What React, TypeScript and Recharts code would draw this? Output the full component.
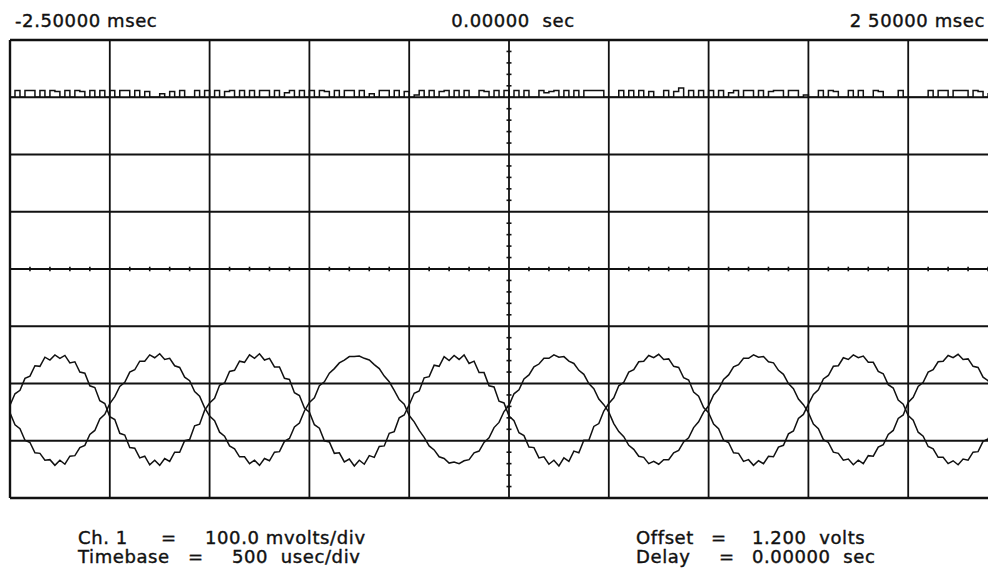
import {
  ComposedChart,
  CartesianGrid,
  Line,
  ReferenceLine,
  XAxis,
  YAxis,
} from "recharts";

// screen is 10 divisions wide, 8 high; samples every 0.05 div
const SAMPLE_STEP = 0.05;

// channel trace, phase A (in divisions)
const traceA = [
  1.62, 1.82, 1.88, 2.09, 2.13, 2.31, 2.30, 2.46, 2.41, 2.50, 2.44, 2.49, 2.36, 2.38, 2.20, 2.18, 1.96, 1.93, 1.70, 1.65,
  1.42, 1.37, 1.13, 1.10, 0.88, 0.87, 0.70, 0.73, 0.58, 0.66, 0.57, 0.69, 0.64, 0.80, 0.80, 1.00, 1.02, 1.26, 1.29, 1.53,
  1.66, 1.74, 1.97, 2.01, 2.21, 2.23, 2.39, 2.37, 2.50, 2.44, 2.52, 2.41, 2.44, 2.29, 2.29, 2.09, 2.07, 1.84, 1.79, 1.57,
  1.50, 1.28, 1.22, 1.00, 0.98, 0.78, 0.79, 0.63, 0.68, 0.56, 0.66, 0.59, 0.74, 0.71, 0.90, 0.91, 1.13, 1.16, 1.40, 1.45,
  1.63, 1.83, 1.87, 2.10, 2.12, 2.32, 2.30, 2.47, 2.40, 2.49, 2.42, 2.50, 2.35, 2.39, 2.19, 2.19, 1.96, 1.94, 1.69, 1.66,
  1.43, 1.35, 1.14, 1.09, 0.89, 0.88, 0.70, 0.72, 0.59, 0.66, 0.56, 0.70, 0.64, 0.82, 0.79, 1.01, 1.01, 1.25, 1.30, 1.52,
  1.65, 1.75, 1.96, 2.02, 2.20, 2.24, 2.38, 2.39, 2.49, 2.45, 2.51, 2.42, 2.43, 2.30, 2.28, 2.10, 2.06, 1.85, 1.78, 1.58,
  1.49, 1.29, 1.21, 1.01, 0.97, 0.79, 0.78, 0.64, 0.67, 0.57, 0.65, 0.60, 0.73, 0.72, 0.89, 0.92, 1.12, 1.17, 1.39, 1.46,
  1.64, 1.81, 1.89, 2.08, 2.14, 2.30, 2.31, 2.45, 2.42, 2.50, 2.45, 2.48, 2.37, 2.37, 2.21, 2.17, 1.98, 1.92, 1.71, 1.64,
  1.44, 1.36, 1.15, 1.08, 0.90, 0.86, 0.71, 0.71, 0.60, 0.65, 0.58, 0.68, 0.66, 0.80, 0.81, 0.99, 1.03, 1.24, 1.31, 1.52,
  1.64,
];

// same channel, phase B
const traceB = [
  1.49, 1.28, 1.21, 1.01, 0.97, 0.79, 0.78, 0.66, 0.67, 0.57, 0.66, 0.59, 0.73, 0.74, 0.88, 0.92, 1.11, 1.18, 1.38, 1.46,
  1.65, 1.77, 1.95, 2.02, 2.20, 2.24, 2.39, 2.39, 2.50, 2.45, 2.52, 2.42, 2.44, 2.31, 2.28, 2.11, 2.05, 1.86, 1.78, 1.58,
  1.43, 1.35, 1.15, 1.08, 0.91, 0.86, 0.72, 0.72, 0.60, 0.66, 0.57, 0.69, 0.65, 0.80, 0.81, 0.99, 1.04, 1.24, 1.31, 1.52,
  1.67, 1.75, 1.96, 2.03, 2.18, 2.26, 2.36, 2.41, 2.47, 2.47, 2.48, 2.44, 2.41, 2.33, 2.26, 2.13, 2.03, 1.88, 1.72, 1.64,
  1.44, 1.33, 1.18, 1.06, 0.91, 0.84, 0.72, 0.69, 0.61, 0.63, 0.60, 0.65, 0.67, 0.79, 0.82, 0.97, 1.05, 1.23, 1.32, 1.51,
  1.62, 1.82, 1.89, 2.08, 2.15, 2.29, 2.34, 2.44, 2.44, 2.50, 2.46, 2.47, 2.39, 2.35, 2.23, 2.16, 2.00, 1.91, 1.73, 1.63,
  1.50, 1.30, 1.16, 1.07, 0.92, 0.85, 0.73, 0.71, 0.60, 0.64, 0.59, 0.67, 0.67, 0.79, 0.83, 0.98, 1.05, 1.23, 1.33, 1.50,
  1.61, 1.80, 1.90, 2.07, 2.15, 2.29, 2.33, 2.44, 2.44, 2.50, 2.46, 2.47, 2.38, 2.36, 2.23, 2.16, 2.00, 1.91, 1.73, 1.63,
  1.49, 1.29, 1.21, 1.02, 0.97, 0.80, 0.78, 0.66, 0.68, 0.58, 0.66, 0.60, 0.74, 0.73, 0.89, 0.93, 1.11, 1.18, 1.39, 1.45,
  1.67, 1.76, 1.95, 2.02, 2.20, 2.24, 2.38, 2.39, 2.49, 2.45, 2.51, 2.42, 2.43, 2.30, 2.28, 2.11, 2.05, 1.86, 1.78, 1.58,
  1.44,
];

// noisy trace sitting on the 7th division line
const topTrace = [
  7, 7.12, 7, 7.12, 7.12, 7, 7.12, 7, 7.12, 7.1, 7, 7.12, 7, 7.12, 7.1, 7, 7.12, 7, 7.12, 7,
  7.12, 7, 7.12, 7.12, 7, 7.12, 7, 7.1, 7, 7, 7.06, 7, 7.1, 7, 7.12, 7, 7, 7.12, 7, 7.12,
  7, 7.12, 7, 7.1, 7.12, 7, 7.12, 7, 7.12, 7, 7.12, 7.12, 7, 7.12, 7, 7.08, 7.12, 7, 7.12, 7,
  7.12, 7, 7.12, 7.1, 7, 7.12, 7, 7.12, 7.12, 7, 7.12, 7, 7.06, 7, 7.12, 7.12, 7, 7.12, 7, 7.1,
  7, 7.04, 7.12, 7, 7.12, 7, 7.1, 7.12, 7, 7.12, 7, 7.12, 7, 7, 7.12, 7.1, 7, 7.12, 7, 7.12,
  7, 7.12, 7, 7.12, 7, 7, 7.12, 7.08, 7.1, 7.12, 7, 7.12, 7, 7.12, 7, 7.12, 7.12, 7.12, 7.12, 7,
  7, 7, 7.12, 7, 7.12, 7, 7.12, 7, 7.1, 7, 7, 7.12, 7, 7.1, 7.16, 7, 7.12, 7, 7.12, 7,
  7.12, 7, 7.12, 7, 7.08, 7.12, 7, 7.12, 7.12, 7, 7.12, 7, 7.1, 7.12, 7.12, 7, 7.12, 7.12, 7, 7.04,
  7, 7, 7.12, 7, 7.12, 7.1, 7, 7, 7.12, 7, 7.12, 7, 7, 7.12, 7.1, 7, 7, 7, 7.12, 7,
  7, 7, 7, 7, 7.12, 7, 7.12, 7.12, 7, 7.12, 7.12, 7.12, 7, 7.12, 7.1, 7, 7.06, 7, 7.04, 7,
  7,
];

const xDivisions = [0, 1, 2, 3, 4, 5, 6, 7, 8, 9, 10];
const yDivisions = [0, 1, 2, 3, 4, 5, 6, 7, 8];
const minorSteps = [0.2, 0.4, 0.6, 0.8];

const headerLabels = ["-2.50000 msec", "0.00000  sec", "2 50000 msec"];
const footerLeft = [
  ["Ch. 1", "=", "100.0 mvolts/div"],
  ["Timebase", "=", "500  usec/div"],
];
const footerRight = [
  ["Offset", "=", "1.200  volts"],
  ["Delay", "=", "0.00000  sec"],
];

const rows = traceA.map((a, i) => ({
  x: Math.round(i * SAMPLE_STEP * 100) / 100,
  a,
  b: traceB[i],
  top: topTrace[i],
}));

// small tick marks along the centre cross
const centreYTicks = yDivisions.slice(0, -1).flatMap((d) => minorSteps.map((s) => d + s));
const centreXTicks = xDivisions.slice(0, -1).flatMap((d) => minorSteps.map((s) => d + s));

const textStyle: React.CSSProperties = {
  position: "absolute",
  fontFamily: "'DejaVu Sans', sans-serif",
  fontSize: 18,
  lineHeight: "18px",
  letterSpacing: 0.6,
  color: "#111",
  WebkitTextStroke: "0.4px #111",
  whiteSpace: "pre",
};

function Txt({ left, top, children }: { left: number; top: number; children: string }) {
  return <div style={{ ...textStyle, left, top }}>{children}</div>;
}

export default function App() {
  const ink = "#111";
  const lineGap = 19;
  return (
    <div style={{ position: "relative", width: 988, height: 560, overflow: "hidden", background: "#fff" }}>
      <Txt left={7} top={4}>{headerLabels[0]}</Txt>
      <div style={{ ...textStyle, left: 405, top: 4, width: 200, textAlign: "center" }}>{headerLabels[1]}</div>
      <div style={{ ...textStyle, right: 11, top: 4 }}>{headerLabels[2]}</div>

      <div style={{ position: "absolute", left: 0, top: 30 }}>
        <ComposedChart width={1002} height={462} data={rows} margin={{ top: 2, right: 2, left: 2, bottom: 2 }}>
          <XAxis type="number" dataKey="x" domain={[0, 10]} ticks={xDivisions} hide />
          <YAxis type="number" domain={[0, 8]} ticks={yDivisions} hide />
          <CartesianGrid stroke={ink} strokeWidth={1.8} horizontalValues={yDivisions} verticalValues={xDivisions} />
          <ReferenceLine y={8} stroke={ink} strokeWidth={2.4} />
          <ReferenceLine y={0} stroke={ink} strokeWidth={2.4} />
          <ReferenceLine x={0} stroke={ink} strokeWidth={2.4} />
          {centreYTicks.map((v) => (
            <ReferenceLine
              key={"cy" + v}
              segment={[{ x: 4.975, y: v }, { x: 5.025, y: v }]}
              stroke={ink}
              strokeWidth={1.6}
            />
          ))}
          {centreXTicks.map((v) => (
            <ReferenceLine
              key={"cx" + v}
              segment={[{ x: v, y: 3.96 }, { x: v, y: 4.04 }]}
              stroke={ink}
              strokeWidth={1.6}
            />
          ))}
          <Line type="stepAfter" dataKey="top" stroke={ink} strokeWidth={1.5} dot={false} isAnimationActive={false} />
          <Line type="linear" dataKey="a" stroke={ink} strokeWidth={1.5} dot={false} isAnimationActive={false} />
          <Line type="linear" dataKey="b" stroke={ink} strokeWidth={1.5} dot={false} isAnimationActive={false} />
        </ComposedChart>
      </div>

      {footerLeft.map((r, i) => (
        <div key={"fl" + i}>
          <Txt left={70} top={521 + i * lineGap}>{r[0]}</Txt>
          <Txt left={i === 0 ? 153 : 180} top={521 + i * lineGap}>{r[1]}</Txt>
          <Txt left={i === 0 ? 197 : 224} top={521 + i * lineGap}>{r[2]}</Txt>
        </div>
      ))}
      {footerRight.map((r, i) => (
        <div key={"fr" + i}>
          <Txt left={628} top={521 + i * lineGap}>{r[0]}</Txt>
          <Txt left={i === 0 ? 703 : 711} top={521 + i * lineGap}>{r[1]}</Txt>
          <Txt left={744} top={521 + i * lineGap}>{r[2]}</Txt>
        </div>
      ))}
    </div>
  );
}
